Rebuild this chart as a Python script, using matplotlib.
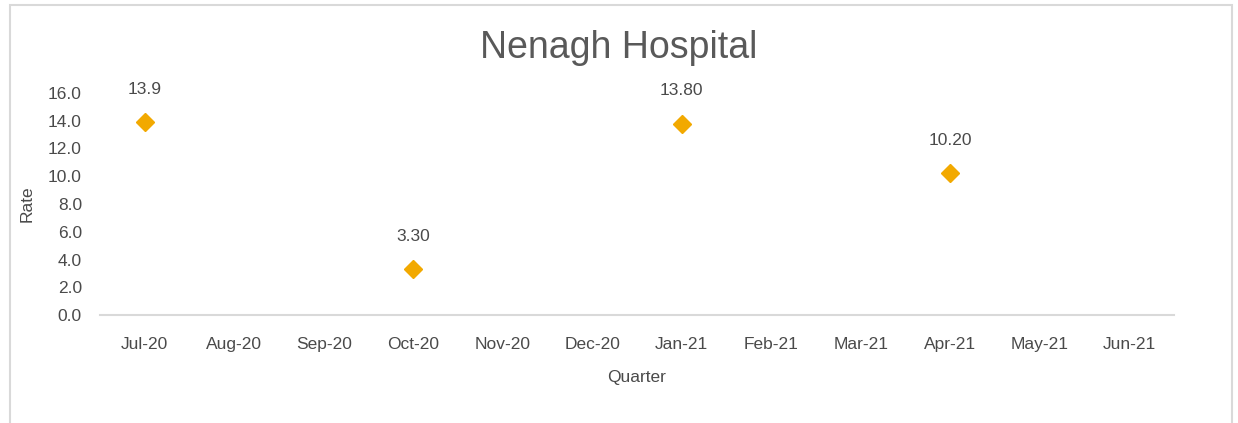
import numpy as np
import matplotlib.pyplot as plt
from matplotlib.patches import Rectangle

months = ['Jul-20', 'Aug-20', 'Sep-20', 'Oct-20', 'Nov-20', 'Dec-20',
          'Jan-21', 'Feb-21', 'Mar-21', 'Apr-21', 'May-21', 'Jun-21']
rates = [13.9, np.nan, np.nan, 3.3, np.nan, np.nan,
         13.8, np.nan, np.nan, 10.2, np.nan, np.nan]
rate_labels = ['13.9', '', '', '3.30', '', '', '13.80', '', '', '10.20', '', '']

plt.rcParams['font.family'] = ['Liberation Sans', 'DejaVu Sans']
text_color = '#4a4a4a'

fig = plt.figure(figsize=(12.38, 4.23), dpi=100)
fig.patches.append(Rectangle((10 / 1238, -0.1), 1222 / 1238, 1 - 5 / 423 + 0.1,
                             transform=fig.transFigure, fill=False,
                             edgecolor='#D9D9D9', linewidth=1.5))

ax = fig.add_axes([100 / 1238, (423 - 315) / 423, 1074 / 1238, 222 / 423])
x = np.arange(len(months))
ax.plot(x, rates, linestyle='none', marker='D', markersize=9,
        color='#F2A900', markeredgecolor='#F2A900')
for xi, v, lab in zip(x, rates, rate_labels):
    if lab:
        ax.annotate(lab, (xi, v), xytext=(0, 23.5), textcoords='offset points',
                    ha='center', va='center', fontsize=12.5, color=text_color)

ax.set_xlim(-0.5, len(months) - 0.5)
ax.set_ylim(0, 16)
ax.set_yticks(np.arange(0, 17, 2))
ax.set_yticklabels([f'{t:.1f}' for t in np.arange(0, 17, 2)])
ax.set_xticks(x)
ax.set_xticklabels(months)
ax.tick_params(length=0, labelsize=12.5, labelcolor=text_color)
ax.tick_params(axis='x', pad=16)
ax.tick_params(axis='y', pad=13)
for s in ['top', 'right', 'left']:
    ax.spines[s].set_visible(False)
ax.spines['bottom'].set_color('#D9D9D9')
ax.spines['bottom'].set_linewidth(1.5)

ax.set_xlabel('Quarter', fontsize=12.5, color=text_color, labelpad=13)
ax.set_ylabel('Rate', fontsize=12.5, color=text_color, labelpad=10)
fig.text(0.5, 1 - 48 / 423, 'Nenagh Hospital', ha='center', va='center',
         fontsize=27, color='#595959')

fig.savefig('out.png', dpi=100)
